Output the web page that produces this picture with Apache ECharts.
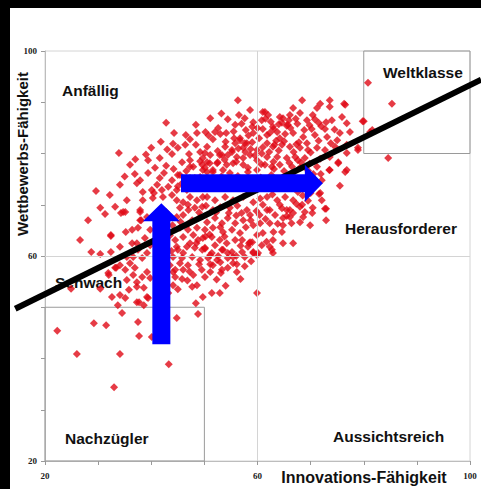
<!DOCTYPE html>
<html>
<head>
<meta charset="utf-8">
<script src="https://cdn.jsdelivr.net/npm/echarts@6/dist/echarts.min.js"></script>
<style>
  html, body { margin: 0; padding: 0; background: #000; }
  #main { position: absolute; left: 10px; top: 8px; width: 471px; height: 481px; background: #fff; }
</style>
</head>
<body>
<div id="main"></div>
<script>
// tick labels shown on both axes
var tickLabels = [20, 60, 100];

// companies: [Innovations-Fähigkeit, Wettbewerbs-Fähigkeit]
var outliers = [
  [22.3,45.4],[26.0,40.9],[29.2,46.9],[31.5,46.5],[33.0,34.4],[34.1,40.9],[37.7,44.4],[40.1,44.2],
  [43.3,38.9],[37.5,47.1],[34.5,48.9],[24.9,53.6],[44.8,47.9],[48.8,48.7],[59.9,52.8],[80.8,93.8],
  [85.3,89.7],[84.6,79.1],[81.6,84.6],[56.3,90.4]
];
var lowerLeft = [
  [28.7,60.8],[30.4,60.4],[32.4,60.8],[34.1,61.8],[30.4,53.6],[31.9,56.7],[33.4,57.7],[32.6,52.0],
  [34.1,52.4],[35.8,53.4],[37.3,54.0],[35.1,51.8],[33.7,50.4],[37.3,51.0],[38.6,50.4],[39.2,52.0],
  [32.0,56.3],[33.2,57.7],[34.1,58.2],[35.1,57.3],[36.0,58.6],[36.9,57.7],[36.6,56.3],[35.4,55.3],
  [37.3,54.9],[38.3,55.9],[39.2,56.9],[39.8,55.7],[38.6,53.8],[39.4,51.8],[37.7,51.0],[36.6,59.8],
  [35.4,59.8],[37.5,61.2],[38.3,59.6],[39.2,60.6],[39.8,62.1],[38.8,63.5],[36.4,62.5],[32.4,64.1],
  [35.2,64.7],[39.8,65.1],[36.4,65.1],[37.5,65.5],[37.9,67.0],[39.2,67.6],[31.3,68.2],[34.3,68.4],
  [26.6,63.1],[28.1,67.0],[30.4,69.4]
];
var lowerMiddle = [
  [48.4,50.8],[49.7,52.0],[51.4,52.8],[52.9,52.8],[45.8,55.5],[47.7,54.0],[48.6,54.3],[44.1,56.9],
  [44.1,54.3],[43.2,52.8],[51.6,58.2],[53.3,57.3],[55.4,58.6],[56.1,58.4],[54.4,59.6],[53.1,56.7],
  [51.1,58.4],[46.9,58.2],[45.4,58.6],[44.5,57.3],[44.5,55.9],[56.0,60.0],[55.2,60.8],[53.5,61.2],
  [51.4,60.6],[50.1,61.4],[58.4,62.5],[59.2,60.6],[57.1,63.1],[46.0,60.6],[44.8,61.8],[44.5,63.1],
  [47.3,62.5],[48.8,63.1],[49.6,61.2],[51.1,60.2],[45.0,61.2],[46.7,61.8],[48.2,61.6],[50.1,61.6],
  [52.0,62.1],[53.3,61.2],[54.4,60.6],[44.1,59.8],[45.8,59.6],[47.7,59.8],[49.2,59.2],[50.7,59.6],
  [52.4,59.2],[55.4,59.8],[57.1,60.8],[58.2,61.8],[43.5,58.2],[46.0,57.3],[47.9,56.3],[50.1,55.9],
  [51.1,56.9],[54.4,57.7],[56.1,56.9],[58.6,62.7],[45.0,53.5],[46.8,55.2],[49.5,57.3],[52.3,55.4],
  [54.0,54.2],[56.8,55.5],[57.6,58.0],[58.8,59.0],[53.0,58.8],[49.0,58.4],[47.2,57.0],[42.7,55.6],
  [41.6,57.8],[41.5,60.2],[52.6,60.0],[57.6,59.8]
];
var middle = [
  [44.8,67.6],[46.0,68.0],[47.7,67.0],[49.2,67.6],[50.5,66.6],[52.0,67.4],[53.3,66.4],[54.4,67.4],
  [55.8,66.4],[57.3,67.0],[58.6,68.0],[59.2,66.0],[45.4,65.5],[46.9,65.1],[48.6,65.5],[50.1,65.1],
  [51.6,65.5],[53.5,64.7],[55.2,65.1],[56.7,64.5],[46.0,63.7],[47.9,64.1],[49.7,63.5],[51.4,63.7],
  [52.9,63.1],[54.2,62.5],[55.8,63.1],[33.2,69.6],[35.1,68.6],[37.9,69.0],[38.4,70.9],[40.3,71.3],
  [42.2,71.5],[43.9,71.9],[44.8,70.9],[46.0,70.5],[47.3,71.5],[48.6,70.9],[49.7,71.5],[45.4,69.4],
  [46.9,70.0],[48.2,69.4],[49.6,69.6],[50.5,71.5],[52.0,70.9],[53.9,71.5],[55.4,70.9],[57.3,71.5],
  [59.2,70.5],[54.8,69.4],[51.6,69.0],[58.0,69.0],[41.0,66.0],[43.5,64.0],[42.8,68.6],[40.6,62.5],
  [43.8,61.0],[52.0,74.0],[55.0,73.5],[58.0,74.5],[61.0,73.8],[64.0,74.2],[67.0,73.2],[45.0,73.6],
  [50.3,69.8],[53.0,69.5],[56.2,69.8],[57.0,68.4],[59.8,68.8],[61.5,67.2],[63.8,66.3],[65.5,67.8],
  [67.3,70.2],[69.5,70.8],[70.4,69.4],[63.0,64.7],[61.7,62.8],[57.8,65.6],[54.6,68.4],[52.2,68.5],
  [49.0,68.5],[47.0,69.0],[45.5,66.7],[51.0,64.2],[53.8,63.8],[56.8,62.0],[48.5,62.5],[47.0,66.3],
  [44.0,66.0],[60.5,71.2],[62.8,72.0],[64.6,69.3],[66.4,66.4],[68.5,71.8],[60.4,68.0],[58.7,67.0],
  [56.0,67.9],[53.0,65.6],[50.2,63.8]
];
var upperLeft = [
  [42.8,86.0],[33.9,80.1],[40.0,81.1],[44.1,81.9],[43.9,79.9],[47.1,79.9],[45.8,78.3],[42.8,77.6],
  [47.9,77.4],[36.9,76.0],[39.4,76.2],[37.3,74.2],[42.4,76.2],[41.1,73.9],[29.6,72.7],[38.4,72.5],
  [40.5,72.3],[34.7,68.6],[37.9,68.6],[38.1,67.0],[32.4,63.9],[37.3,62.5],[40.1,72.9],[42.0,72.9],
  [43.2,73.5],[44.8,72.9],[46.7,72.9],[45.8,74.2],[43.9,74.8],[41.6,75.2],[45.4,75.8],[47.3,75.2],
  [49.2,75.4],[50.5,76.4],[50.5,78.3],[49.6,77.8],[47.3,77.4],[46.4,81.7],[48.4,81.7],[48.6,84.0],
  [46.5,83.6],[45.0,81.1],[49.2,78.5],[47.3,78.7],[48.2,75.2],[45.0,75.8],[41.6,79.1],[40.7,77.2],
  [39.4,78.7],[36.0,77.8],[37.9,74.8],[34.1,73.9],[32.2,71.9],[35.4,70.9],[47.3,82.8],[44.3,84.0],
  [41.8,82.3],[39.0,79.8],[37.0,78.9],[35.0,75.5],[46.6,76.6],[44.2,77.0],[43.0,80.8]
];
var upperCenter = [
  [54.4,86.7],[60.8,86.5],[54.1,84.0],[51.6,82.8],[55.6,83.0],[56.7,82.6],[53.9,81.3],[55.2,80.3],
  [58.0,82.0],[59.2,84.0],[59.9,80.7],[57.3,79.1],[53.3,79.7],[52.4,78.1],[51.1,79.7],[49.7,79.1],
  [50.1,77.2],[51.6,76.4],[54.8,76.2],[58.2,77.2],[49.2,80.3],[50.5,81.3],[52.6,85.0],[55.8,85.6],
  [57.6,86.9],[58.6,88.5],[51.1,86.9],[48.4,85.6],[61.0,88.1],[56.7,83.0],[57.6,82.0],[59.0,82.2],
  [55.8,82.0],[55.2,80.7],[57.3,81.1],[50.1,80.1],[52.9,79.7],[54.4,79.7],[56.1,79.3],[58.6,79.7],
  [59.9,78.7],[51.0,78.1],[52.5,78.3],[54.2,77.8],[55.4,78.1],[57.3,77.8],[49.7,76.8],[51.6,76.8],
  [53.5,76.8],[58.2,76.4],[59.9,76.8],[59.0,85.2],[59.2,86.1],[50.8,83.5],[53.0,83.8],[57.8,84.6],
  [60.3,83.0],[52.5,80.5],[54.0,82.3],[56.4,81.0],[58.7,80.9],[56.5,87.5],[53.2,87.8],[50.2,84.2],
  [56.3,75.6],[53.2,75.5],[50.0,74.0],[57.0,85.8],[58.3,83.5],[60.0,85.0],[56.0,78.4],[53.8,78.8],
  [55.5,84.3],[52.0,84.2],[57.7,80.3],[59.5,79.6]
];
var upperRight = [
  [68.4,90.4],[73.6,90.4],[71.8,89.7],[76.3,89.7],[71.2,88.9],[73.6,89.1],[66.7,88.9],[61.4,88.1],
  [62.0,87.5],[68.0,87.9],[70.4,87.5],[64.8,86.9],[75.9,87.1],[65.9,86.5],[69.3,86.5],[72.9,86.1],
  [76.8,85.9],[79.8,86.3],[62.9,85.2],[65.5,85.4],[70.2,84.8],[72.7,84.8],[75.5,84.0],[77.4,84.2],
  [78.9,81.1],[76.8,81.7],[75.0,82.6],[73.1,83.2],[70.8,83.6],[68.6,83.2],[66.7,84.0],[64.2,83.0],
  [61.8,83.6],[73.6,79.3],[75.2,78.1],[76.8,76.8],[75.5,73.7],[73.5,76.8],[72.1,74.8],[71.6,72.1],
  [72.9,69.2],[72.9,67.0],[70.3,68.4],[68.4,70.0],[66.7,68.4],[64.8,67.4],[64.6,64.7],[66.7,62.5],
  [64.8,62.5],[62.9,63.1],[62.7,61.2],[60.1,60.6],[70.0,72.3],[67.6,72.5],[69.3,74.8],[71.2,77.4],
  [68.6,67.6],[62.9,60.6],[62.3,61.8],[61.0,64.5],[59.9,64.1],[60.5,66.4],[59.9,60.2],[64.8,66.0],
  [66.1,67.6],[63.3,68.0],[62.3,66.4],[60.8,62.1],[59.0,62.7],[59.2,60.8],[76.5,89.5],[80.0,86.3],
  [81.2,84.2],[78.9,80.7],[76.8,80.1],[74.6,81.3],[72.7,80.7],[71.2,81.1],[75.2,78.3],[73.6,76.8],
  [76.5,76.4],[71.8,72.3],[72.1,70.9],[72.7,69.2],[68.9,68.6],[64.2,87.1],[66.1,87.5],[64.6,86.0],
  [65.7,85.6],[62.3,84.0],[63.7,84.2],[61.8,82.0],[62.9,81.3],[64.6,81.7],[66.1,81.3],[68.0,81.1],
  [69.3,82.0],[61.8,79.3],[63.7,79.3],[65.5,79.1],[67.1,79.3],[68.9,79.1],[61.4,77.8],[62.7,77.4],
  [64.2,77.8],[66.5,77.4],[68.0,77.2],[61.8,71.5],[63.7,70.9],[65.2,71.5],[66.7,70.9],[68.0,69.6],
  [65.5,69.0],[61.8,69.0],[61.0,70.0],[62.3,69.0],[64.2,70.0],[66.1,69.0],[68.0,66.6],[69.9,66.0],
  [62.5,86.2],[63.5,82.5],[65.2,83.8],[67.5,85.8],[69.8,85.5],[71.5,86.0],[67.8,82.2],[70.0,80.2],
  [71.8,79.0],[69.8,78.0],[66.0,78.2],[63.0,78.4],[60.8,80.0],[62.2,80.3],[64.0,80.6],[66.8,80.3],
  [68.2,78.3],[70.5,76.0],[60.6,75.3],[62.6,75.8],[61.0,84.8],[61.5,86.8],[63.0,84.8],[64.0,85.7],
  [66.2,85.0],[67.2,86.8],[68.8,84.6],[70.8,86.7],[72.0,85.3],[74.0,86.5],[74.5,84.7],[73.8,82.0],
  [71.5,82.5],[69.5,80.7],[67.3,81.8],[65.0,82.4],[63.2,81.7],[61.0,81.2],[60.7,77.9],[63.1,77.0],
  [65.0,76.6],[67.6,78.7],[69.5,76.7],[71.9,76.0],[66.8,75.5]
];

// trend line (runs past the plot on both sides)
var trendLine = [[14.4, 49.7], [102.1, 94.4]];
// framed segments: [x0, y0, x1, y1]
var boxes = [[80, 80, 100, 100], [20, 20, 50, 50]];
// blue arrows: from -> to, in data units
var arrows = [
  { id: 'up', from: [41.9, 42.8], to: [41.9, 70.3] },
  { id: 'right', from: [45.6, 74.2], to: [72.3, 74.2] }
];
// segment names, placed in px inside the chart (left edge, vertical centre)
var segmentLabels = [
  { text: 'Anfällig', x: 52, y: 82 },
  { text: 'Weltklasse', x: 373, y: 64 },
  { text: 'Herausforderer', x: 335, y: 220 },
  { text: 'Schwach', x: 45, y: 274 },
  { text: 'Nachzügler', x: 55, y: 430 },
  { text: 'Aussichtsreich', x: 323, y: 428 }
];

var allPoints = [].concat(outliers, lowerLeft, lowerMiddle, middle, upperLeft, upperCenter, upperRight);

var chart = echarts.init(document.getElementById('main'), null, { renderer: 'svg' });

var labelFont = 'bold 15.5px "Liberation Sans", Arial, sans-serif';

function axisCfg() {
  return {
    type: 'value',
    min: 20,
    max: 100,
    interval: 10,
    axisLine: { show: true, lineStyle: { color: '#bdbdbd', width: 1 } },
    axisTick: { show: true, length: 4, lineStyle: { color: '#9a9a9a' } },
    axisLabel: {
      formatter: function (v) { return tickLabels.indexOf(v) >= 0 ? String(v) : ''; },
      fontFamily: '"Liberation Serif", serif',
      fontWeight: 'bold',
      fontSize: 9,
      color: '#222'
    },
    splitLine: { show: false }
  };
}

var xAxis = axisCfg();
xAxis.axisLabel.margin = 10;
var yAxis = axisCfg();
yAxis.axisLabel.margin = 8;

var option = {
  animation: false,
  grid: { left: 35, top: 43, right: 11, bottom: 28, show: true, borderColor: '#d4d4d4', borderWidth: 1 },
  xAxis: xAxis,
  yAxis: yAxis,
  graphic: segmentLabels.map(function (l, i) {
    return {
      type: 'text', id: 'seg' + i, x: l.x, y: l.y, z: 1,
      style: { text: l.text, font: labelFont, fill: '#111', verticalAlign: 'middle' }
    };
  }).concat([
    {
      type: 'text', id: 'yname', x: 12, y: 146, rotation: Math.PI / 2, z: 1,
      style: { text: 'Wettbewerbs-Fähigkeit', font: 'bold 15px "Liberation Sans", Arial, sans-serif', fill: '#111', align: 'center', verticalAlign: 'middle' }
    },
    {
      type: 'text', id: 'xname', x: 354, y: 469, z: 1,
      style: { text: 'Innovations-Fähigkeit', font: 'bold 16px "Liberation Sans", Arial, sans-serif', fill: '#111', align: 'center', verticalAlign: 'middle' }
    }
  ]),
  series: [
    {
      type: 'scatter',
      data: allPoints,
      symbol: 'diamond',
      symbolSize: 8,
      itemStyle: { color: '#e00a16' },
      z: 3,
      markLine: {
        silent: true,
        symbol: 'none',
        label: { show: false },
        lineStyle: { color: '#d4d4d4', width: 1, type: 'solid' },
        data: [{ xAxis: 60 }, { yAxis: 60 }]
      },
      markArea: {
        silent: true,
        itemStyle: { color: 'rgba(0,0,0,0)', borderColor: '#9a9a9a', borderWidth: 1 },
        data: boxes.map(function (b) {
          return [{ coord: [b[0], b[1]] }, { coord: [b[2], b[3]] }];
        })
      }
    }
  ]
};

chart.setOption(option);

function toPx(p) { return chart.convertToPixel({ gridIndex: 0 }, p); }

// arrows built in pixel space from their data ends
function arrowShape(a) {
  var p0 = toPx(a.from);
  var p1 = toPx(a.to);
  var dx = p1[0] - p0[0], dy = p1[1] - p0[1];
  var len = Math.sqrt(dx * dx + dy * dy);
  var ux = dx / len, uy = dy / len, nx = -uy, ny = ux;
  var shaft = 9, head = 18.5, headLen = 18;
  var bx = p1[0] - ux * headLen, by = p1[1] - uy * headLen;
  return [
    [p0[0] + nx * shaft, p0[1] + ny * shaft],
    [bx + nx * shaft, by + ny * shaft],
    [bx + nx * head, by + ny * head],
    [p1[0], p1[1]],
    [bx - nx * head, by - ny * head],
    [bx - nx * shaft, by - ny * shaft],
    [p0[0] - nx * shaft, p0[1] - ny * shaft]
  ];
}

chart.setOption({
  graphic: [{
    type: 'polyline', id: 'trend', z: 50,
    shape: { points: trendLine.map(toPx) },
    style: { stroke: '#000', lineWidth: 6, fill: null }
  }].concat(arrows.map(function (a) {
    return { type: 'polygon', id: 'arrow-' + a.id, z: 100, shape: { points: arrowShape(a) }, style: { fill: '#0000ff' } };
  }))
});
</script>
</body>
</html>
